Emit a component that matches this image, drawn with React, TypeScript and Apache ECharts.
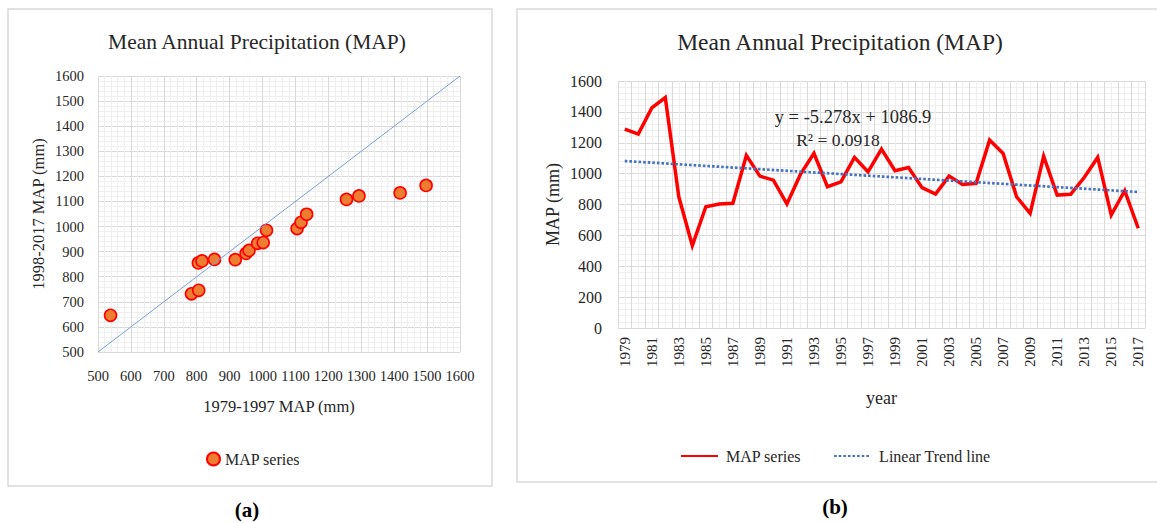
import React, { useEffect, useRef } from "react";
import * as echarts from "echarts";

const years = [
  "1979", "1980", "1981", "1982", "1983", "1984", "1985", "1986", "1987", "1988",
  "1989", "1990", "1991", "1992", "1993", "1994", "1995", "1996", "1997", "1998",
  "1999", "2000", "2001", "2002", "2003", "2004", "2005", "2006", "2007", "2008",
  "2009", "2010", "2011", "2012", "2013", "2014", "2015", "2016", "2017",
];
const mapValues = [
  1288, 1256, 1426, 1493, 850, 534, 786, 803, 808, 1118,
  984, 958, 804, 995, 1131, 915, 947, 1105, 1012, 1159,
  1019, 1040, 909, 868, 984, 930, 937, 1217, 1131, 850,
  743, 1113, 861, 866, 975, 1105, 732, 889, 646,
];
const trendEnds = [1081.6, 881.1];

const scatterX = [538, 784, 806, 805, 816, 854, 917, 950, 959, 985, 1002, 1012, 1105, 1117, 1134, 1255, 1293, 1418, 1497];
const scatterY = [646, 732, 746, 855, 863, 869, 868, 893, 905, 933, 936, 985, 992, 1017, 1049, 1108, 1122, 1134, 1164];
const diagonalEnds = [500, 1600];

const FONT = "Liberation Serif";
const TXT = "#262626";
const plain = (v: number) => String(v);

export default function App() {
  const ref = useRef<HTMLDivElement>(null);
  useEffect(() => {
    document.body.style.margin = "0";
    const chart = echarts.init(ref.current!, null, { renderer: "svg" });
    const trendData = years.map((_, i) =>
      i === 0 ? trendEnds[0] : i === years.length - 1 ? trendEnds[1] : null
    );
    const gridLine = { lineStyle: { color: "#d9d9d9", width: 1 } };
    const minorLine = { show: true, lineStyle: { color: "#efefef", width: 1 } };
    chart.setOption({
      animation: false,
      textStyle: { fontFamily: FONT },
      grid: [
        { left: 98, top: 76, width: 362, height: 276 },
        { left: 618, top: 81, width: 527, height: 247 },
      ],
      xAxis: [
        {
          type: "value", gridIndex: 0, min: 500, max: 1600, interval: 100,
          axisLine: { show: true, lineStyle: { color: "#d9d9d9" } },
          axisTick: { show: false },
          axisLabel: { fontSize: 14.5, color: TXT, margin: 16, fontFamily: FONT, formatter: plain },
          splitLine: { show: true, ...gridLine },
          minorTick: { show: false, splitNumber: 5 },
          minorSplitLine: minorLine,
          name: "1979-1997 MAP (mm)", nameLocation: "middle", nameGap: 46,
          nameTextStyle: { fontSize: 16.5, color: TXT, fontFamily: FONT },
        },
        {
          type: "category", gridIndex: 1, data: years, boundaryGap: true,
          axisLine: { show: true, lineStyle: { color: "#d9d9d9" } },
          axisTick: { show: false },
          axisLabel: { rotate: 90, interval: 1, fontSize: 15, color: TXT, margin: 9, fontFamily: FONT },
          splitLine: { show: false },
          name: "year", nameLocation: "middle", nameGap: 61,
          nameTextStyle: { fontSize: 18, color: TXT, fontFamily: FONT },
        },
        {
          type: "value", gridIndex: 1, min: 0, max: 39, interval: 1,
          axisLine: { show: false }, axisTick: { show: false }, axisLabel: { show: false },
          splitLine: { show: true, ...gridLine },
          minorTick: { show: false, splitNumber: 2 },
          minorSplitLine: minorLine,
        },
      ],
      yAxis: [
        {
          type: "value", gridIndex: 0, min: 500, max: 1600, interval: 100,
          axisLine: { show: false }, axisTick: { show: false },
          axisLabel: { fontSize: 14.5, color: TXT, margin: 14, fontFamily: FONT, formatter: plain },
          splitLine: { show: true, ...gridLine },
          minorTick: { show: false, splitNumber: 5 },
          minorSplitLine: minorLine,
          name: "1998-2017 MAP (mm)", nameLocation: "middle", nameGap: 51,
          nameTextStyle: { fontSize: 16.5, color: TXT, fontFamily: FONT },
        },
        {
          type: "value", gridIndex: 1, min: 0, max: 1600, interval: 200,
          axisLine: { show: false }, axisTick: { show: false },
          axisLabel: { fontSize: 16, color: TXT, margin: 16, fontFamily: FONT, formatter: plain },
          splitLine: { show: true, ...gridLine },
          minorTick: { show: false, splitNumber: 5 },
          minorSplitLine: minorLine,
          name: "MAP (mm)", nameLocation: "middle", nameGap: 56,
          nameTextStyle: { fontSize: 18, color: TXT, fontFamily: FONT },
        },
      ],
      legend: [
        {
          data: ["MAP series"], left: 201, top: 446, itemWidth: 13, itemHeight: 13, icon: "circle",
          textStyle: { fontSize: 16, color: TXT, fontFamily: FONT },
        },
        {
          data: ["MAP (b)", "Linear Trend line"], left: 675, top: 443, itemWidth: 37, itemGap: 32,
          itemStyle: { opacity: 0 },
          formatter: (n: string) => (n === "MAP (b)" ? "MAP series" : n),
          textStyle: { fontSize: 16, color: TXT, fontFamily: FONT, padding: [0, 0, 0, 3] },
        },
      ],
      series: [
        {
          name: "diagonal", type: "line", xAxisIndex: 0, yAxisIndex: 0, symbol: "none", silent: true,
          data: [[diagonalEnds[0], diagonalEnds[0]], [diagonalEnds[1], diagonalEnds[1]]],
          lineStyle: { color: "#7a9fd8", width: 1 },
        },
        {
          name: "MAP series", type: "scatter", xAxisIndex: 0, yAxisIndex: 0, symbolSize: 12,
          data: scatterX.map((x, i) => [x, scatterY[i]]),
          itemStyle: { color: "#ED7D31", borderColor: "#FF0000", borderWidth: 1.6, opacity: 1 },
        },
        {
          name: "MAP (b)", type: "line", xAxisIndex: 1, yAxisIndex: 1, symbol: "none",
          data: mapValues, itemStyle: { color: "#FF0000" },
          lineStyle: { color: "#FF0000", width: 3.5, join: "miter" },
        },
        {
          name: "Linear Trend line", type: "line", xAxisIndex: 1, yAxisIndex: 1, symbol: "none",
          data: trendData, connectNulls: true, itemStyle: { color: "#4472C4" },
          lineStyle: { color: "#4472C4", width: 2.7, type: [2.6, 2] },
        },
      ],
      graphic: [
        { type: "rect", z: 100, shape: { x: 8, y: 9, width: 484, height: 477 }, style: { fill: "none", stroke: "#d9d9d9", lineWidth: 1.5 } },
        { type: "rect", z: 100, shape: { x: 517, y: 9, width: 660, height: 473 }, style: { fill: "none", stroke: "#d9d9d9", lineWidth: 1.5 } },
        { type: "text", z: 100, x: 257, y: 42, style: { text: "Mean Annual Precipitation (MAP)", fontSize: 21.5, fontFamily: FONT, fill: TXT, textAlign: "center", textVerticalAlign: "middle" } },
        { type: "text", z: 100, x: 840, y: 42, style: { text: "Mean Annual Precipitation (MAP)", fontSize: 23.5, fontFamily: FONT, fill: TXT, textAlign: "center", textVerticalAlign: "middle" } },
        { type: "text", z: 100, x: 853, y: 117, style: { text: "y = -5.278x + 1086.9", fontSize: 18.5, fontFamily: FONT, fill: TXT, textAlign: "center", textVerticalAlign: "middle" } },
        { type: "text", z: 100, x: 838, y: 140, style: { text: "R² = 0.0918", fontSize: 17.5, fontFamily: FONT, fill: TXT, textAlign: "center", textVerticalAlign: "middle" } },
        { type: "text", z: 100, x: 247, y: 510, style: { text: "(a)", fontSize: 21, fontWeight: "bold", fontFamily: FONT, fill: "#000", textAlign: "center", textVerticalAlign: "middle" } },
        { type: "text", z: 100, x: 835, y: 507, style: { text: "(b)", fontSize: 21, fontWeight: "bold", fontFamily: FONT, fill: "#000", textAlign: "center", textVerticalAlign: "middle" } },
      ],
    });
    return () => chart.dispose();
  }, []);
  return <div ref={ref} style={{ width: 1157, height: 523 }} />;
}
